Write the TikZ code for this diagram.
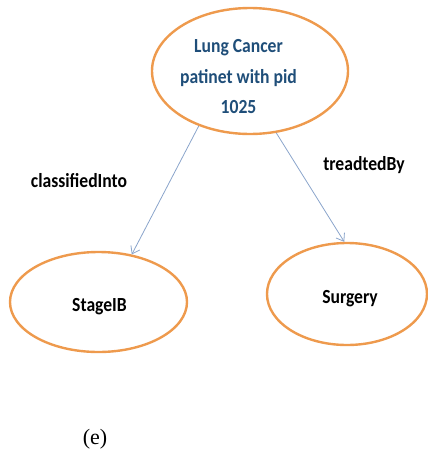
\documentclass[tikz,border=0pt]{standalone}
\usepackage{fontspec}
\setmainfont{Liberation Serif}
\newfontfamily\carlitofont[FakeStretch=0.88]{Carlito}
\usetikzlibrary{shapes.geometric,arrows.meta}
\definecolor{ellor}{HTML}{EE9A4D}
\definecolor{arrbl}{HTML}{8AA4CB}
\definecolor{txtbl}{HTML}{1F4E79}
\tikzset{
  oval/.style={ellipse, draw=ellor, line width=2.4pt, inner sep=0pt},
  rel/.style={draw=arrbl, line width=0.8pt, -{Straight Barb[length=7pt,width=10pt]}},
  lbl/.style={font=\carlitofont\bfseries\fontsize{20}{24}\selectfont, text=black, anchor=base, inner sep=0pt},
}
\begin{document}
\begin{tikzpicture}[x=1pt,y=-1pt]
\useasboundingbox (0,0) rectangle (428,450);
\node[oval, minimum width=196pt, minimum height=126pt] (top) at (250,71) {};
\node[font=\carlitofont\bfseries\fontsize{20}{30.5}\selectfont, text=txtbl, align=center, inner sep=0pt] (toptxt) at (238.5,76.8) {Lung Cancer\\patinet with pid\\1025};
\node[oval, minimum width=177pt, minimum height=100pt] (stage) at (98.5,302) {};
\node[lbl] (stagetxt) at (99.5,311) {StageIB};
\node[oval, minimum width=160pt, minimum height=102pt] (surg) at (347,294) {};
\node[lbl] (surgtxt) at (350,303) {Surgery};
\draw[rel] (top.227.5) -- (stage.55);
\draw[rel] (top.293) -- (surg.93);
\node[lbl] (l1) at (79,187) {classifiedInto};
\node[lbl] (l2) at (364,170) {treadtedBy};
\node[font=\fontsize{22}{24}\selectfont, anchor=base, inner sep=0pt] (cap) at (95,444) {(e)};
\end{tikzpicture}
\end{document}
